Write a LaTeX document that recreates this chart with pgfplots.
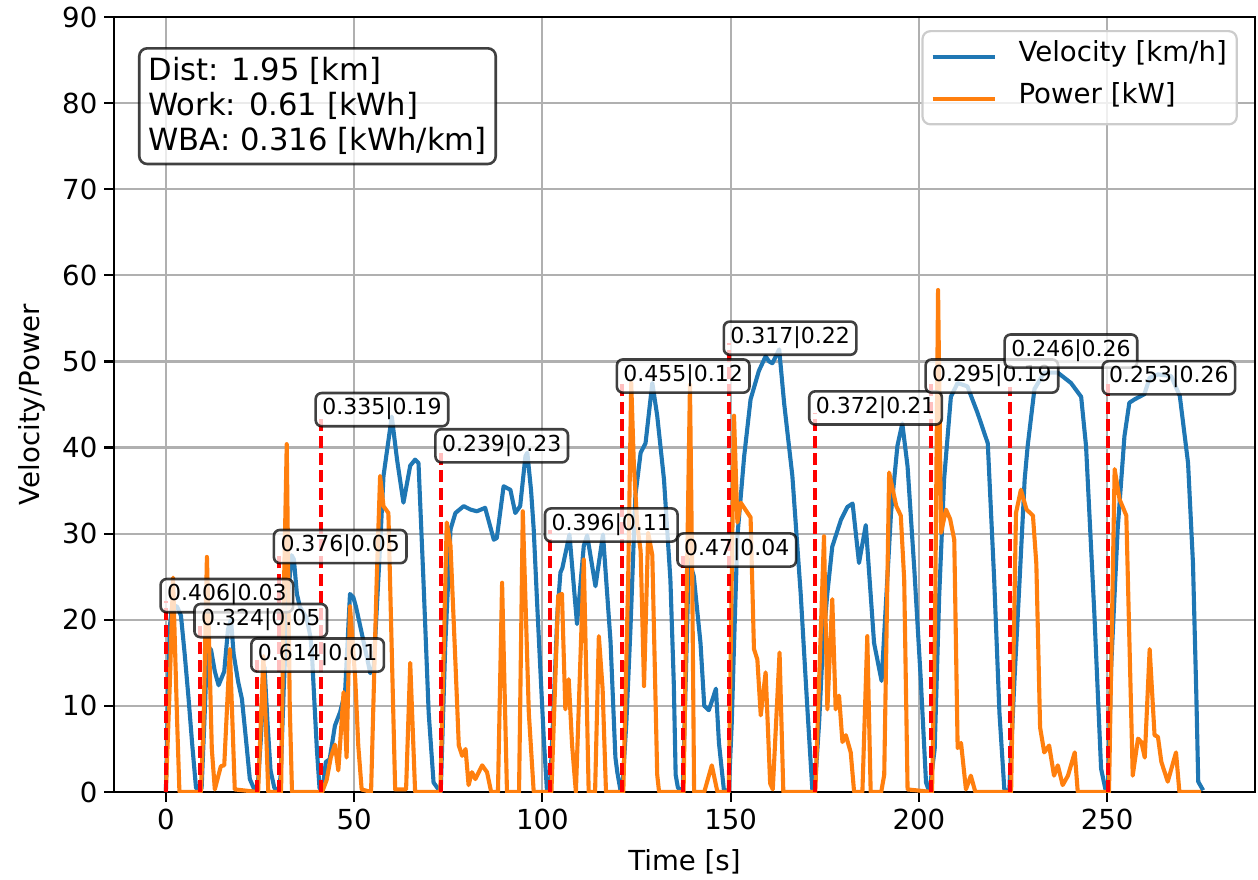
\documentclass[border=0pt]{standalone}
\usepackage{fontspec}
\setmainfont{DejaVu Sans}
\usepackage{pgfplots}
\pgfplotsset{compat=1.18}
\definecolor{mblue}{HTML}{1F77B4}
\definecolor{morange}{HTML}{FF7F0E}
\definecolor{mgrid}{HTML}{B0B0B0}
\tikzset{lbl/.style={anchor=base west, xshift=-3.3pt, fill=white, fill opacity=0.75, text opacity=1,
   draw=black, draw opacity=0.75, line width=1.3pt, rounded corners=3pt,
   inner xsep=3.3pt, inner ysep=3.3pt, font=\fontsize{11}{13}\selectfont,
   text height=0.76em, text depth=0.24em}}
\pgfplotstableread{
t v
0 0
0.5 10
1 19
1.7 21.8
3 21.5
4 20.5
5 16
6 11
7 5.5
8 0.5
9 0
9.5 0.5
10.3 9
11 17
12 16.5
13 14
14 12.4
15.5 14
16.5 18.9
17.3 20
18 16
19.2 12.8
20.2 10.8
21.3 6
22.3 1.5
23.5 0.3
24.3 0
25.2 6
26.2 14.5
27 8
27.8 2.5
28.8 0.5
30 0
30.5 2
31.3 12
32.3 22
33.4 27.5
34 27
34.8 23
35.6 21.5
37.4 20.2
38.4 18
38.8 16
39.5 10
40.1 5
40.8 0.5
41.5 0
42.5 3.5
43.5 3.8
44.9 7.7
46.3 9.3
47.6 11.6
48.9 23
49.8 22.6
50.5 21.5
52 18.5
54.3 13.8
55.2 14.5
56.9 28.6
57.8 36.7
60 43.6
61.4 38.6
63.1 33.6
64.9 37.9
66.2 38.6
67.1 38.2
68.4 24.7
69.8 9.2
71.1 1.1
72.4 0.3
73 0
74.2 17
75.6 30.5
76.9 32.4
79.1 33.2
80.9 32.8
82.6 32.6
84.8 33
87.1 29.3
87.9 29.5
89.7 35.5
91.5 35.1
92.8 32.4
94.1 33.2
95.5 39
96 39.4
97 35
97.7 30.5
98.6 22
99.5 13.9
100.4 6
101.2 0.3
102 0
103 10
104 20.8
104.8 25.5
105.3 26
107.2 29.9
109.2 19.5
111 28.6
111.9 29.8
114.1 23.9
116.1 29.9
118.1 17.5
119.4 4
119.9 2.3
120.7 0.3
121.2 0
122.3 8
123.4 19
124.7 34.4
126.1 39.4
127.4 40.5
129.2 47.5
130.5 43.7
132.3 36.3
134 24.7
134.9 12.7
135.4 2
136 0.5
137.3 0
138.2 15
138.9 27
140.2 25.1
142 17.3
143 10
144.2 9.5
145 10.5
146.1 12
146.9 5.7
148.2 0.3
149.5 0
150.3 8
150.9 17
151.8 29.7
153.6 39
155.3 45.6
157.5 48.9
159.3 50.6
160.2 50
161.1 49.8
162.9 51.4
164.2 45.2
166.4 36.7
168.6 23.1
170.4 9.6
171.7 0.3
172.3 0
173.5 8
174.5 17
175.7 23.1
177 28.5
179.3 31.6
181 33.1
182.4 33.5
184.1 26.6
185.9 31
188.1 17.3
190.1 12.9
192.6 32.4
194.3 40.2
195.6 42.8
197 37.8
198.8 25.8
200.5 13.1
201.9 1.1
202.8 0
204.2 5
205.4 22.8
206.7 36.3
208.5 45.9
210.3 47.5
212.9 47.1
215.6 44
218.3 40.5
220 24.7
221.4 9.2
222.7 0.3
224 0
225.4 13.1
226.8 25
228.1 36.3
228.9 40.2
230.7 46.8
233.3 48.7
236.9 48.7
240.4 47.5
243.1 45.9
244.4 40.2
246.6 20.8
248.4 2.7
249.7 0
250.2 0
251.1 14.8
252.8 30.5
254.6 41.3
255.9 45.2
257.3 45.6
259.9 46.2
261.3 48.1
263.5 48.5
267 48.3
269.3 46
271.5 38.2
272.8 26.6
273.7 11.2
274.2 1.2
275.5 0.2
}\velocity
\pgfplotstableread{
t p
0 0
1 12
1.9 24.9
3 8
3.6 0
9.3 0
10 8
10.9 27.3
12.2 5
13 0.3
14.6 3
15.5 3.1
17 16.6
18.3 0.3
24.5 0
25.9 15.8
27.2 0
30.6 0
31.2 20
32.1 40.4
32.9 10
33.5 0
41.5 0
42.7 1.4
43.8 4
44.9 5.5
45.8 2.5
47.2 11.6
48 4
48.9 21.6
50.3 13.1
51.1 5.4
52 0.3
54.5 0
56 24.7
56.9 36.7
57.8 33.2
59.1 32.4
60.9 0.3
63.8 0.3
64.9 15
66.2 0
72.9 0
74.6 31.3
75.6 28.6
76.9 15.1
77.8 5.4
78.7 4.2
79.6 5
80.4 0.8
81.3 2.3
82.2 1.5
84 3.1
85.3 2.3
86.4 0
88.2 0
89.3 24.3
90.6 0
93.8 0
94.8 32.6
96.4 9.2
97.7 0
102.4 0
104.2 22.8
105.2 23
106.1 9.6
107 13.1
107.9 5.4
108.9 0
111 27
112.3 0
114 0
115 18.1
116 12
116.9 0
121.5 0
122.8 25
123.6 47.5
124.3 38
125.2 31
126.1 28
127 12.3
128.1 30.1
129.2 27.5
130.5 2
131 0
137.5 0
138.4 25
139.2 47.3
139.8 25
140.3 0
143 0
145 3.1
146.5 0
149.5 0
150.9 43.7
151.8 31.3
152.7 33.6
155.3 31.9
156.2 16.6
157.1 15.4
158 8.9
159.3 13.9
160.5 1
161.2 0.3
163 16.2
164 0
172.5 0
174.8 29.7
175.7 9.6
177 22.4
177.9 9.6
178.8 11.2
179.7 5.8
180.6 6.6
181.9 4.6
182.8 0
185 0
186.3 18.1
187.2 0
190 0
190.8 2
192.1 37.1
194 33.2
195.2 32.1
196.1 24.7
197 0.3
203.5 0
204.3 20
205.1 58.3
205.9 30.1
207.2 32.8
208.3 31.7
209.4 29.3
210.3 5.1
211.2 5.7
212.5 0.3
213.8 1.9
215 0
224.5 0
225.8 32.4
227.1 35.1
228.6 32.8
230.3 32.1
231.2 26.5
232.2 7.5
233.3 4.6
234.6 5.4
235.9 1.9
236.9 3.1
238.2 0.8
239.6 1.9
241.4 4.6
242.2 0
250.5 0
252 37.5
253.3 34
255.1 32.1
256.8 1.9
258.2 6.2
259.1 5.8
260 4
261.3 16.6
262.6 6.6
263.5 6.4
264.4 3.5
266.1 1.2
268.3 4.6
269.2 0
275 0
}\power
\begin{document}
\begin{tikzpicture}
\useasboundingbox (-57pt,-43.5pt) rectangle (572pt,396pt);
\begin{axis}[
 at={(0pt,0pt)}, anchor=south west, scale only axis,
 width=570.5pt, height=387.5pt,
 xmin=-13.78, xmax=289.28, ymin=0, ymax=90,
 xtick={0,50,...,250}, ytick={0,10,...,90},
 tick align=outside, xtick pos=bottom, ytick pos=left,
 major tick length=4.8pt,
 tick style={black, line width=1.1pt},
 axis line style={black, line width=1.1pt},
 grid=major, major grid style={mgrid, line width=1.1pt},
 /pgf/number format/assume math mode=true,
 tick label style={font=\fontsize{13.8}{16}\selectfont},
 label style={font=\fontsize{13.8}{16}\selectfont},
 xlabel={Time [s]}, ylabel={Velocity/Power},
 xlabel style={at={(axis description cs:0.5,0)}, anchor=base, yshift=-39pt},
 ylabel style={at={(axis description cs:0,0.5)}, anchor=center, yshift=41pt},
 legend style={at={(0.985,0.9832)}, anchor=north east, draw=black!20, line width=1.1pt,
   fill=white, fill opacity=0.8, text opacity=1, rounded corners=4pt,
   inner xsep=4pt, inner ysep=6.3pt, row sep=8pt,
   font=\fontsize{13.8}{16}\selectfont,
   nodes={inner xsep=1pt, inner ysep=1.5pt, text height=0.76em, text depth=0.24em},
   /tikz/every odd column/.append style={column sep=10pt}},
 legend cell align=left,
 legend image code/.code={\draw[#1, line width=2.05pt] (0pt,0pt) -- (31pt,0pt);},
]
\addplot[mblue, line width=2.05pt, line join=round] table[x=t, y=v] {\velocity};
\addlegendentry{Velocity [km/h]}
\addplot[morange, line width=2.05pt, line join=round] table[x=t, y=p] {\power};
\addlegendentry{Power [kW]}
\addplot[ycomb, red, line width=2.05pt, dash pattern=on 6pt off 2.6pt, forget plot] coordinates {
(0,22.2) (9,19.3) (24.1,15.3) (30.1,27.9) (41.2,43.8) (73,39.6) (102.1,30.4)
(121.2,47.7) (137.3,27.5) (149.6,52.1) (172.3,44.0) (203.2,47.7) (224.2,47.0) (250.2,47.5)};
\node[lbl] at (axis cs:0,22.2) {0.406|0.03};
\node[lbl] at (axis cs:9,19.3) {0.324|0.05};
\node[lbl] at (axis cs:24.1,15.3) {0.614|0.01};
\node[lbl] at (axis cs:30.1,27.9) {0.376|0.05};
\node[lbl] at (axis cs:41.2,43.8) {0.335|0.19};
\node[lbl] at (axis cs:73,39.6) {0.239|0.23};
\node[lbl] at (axis cs:102.1,30.4) {0.396|0.11};
\node[lbl] at (axis cs:121.2,47.7) {0.455|0.12};
\node[lbl] at (axis cs:137.3,27.5) {0.47|0.04};
\node[lbl] at (axis cs:149.6,52.1) {0.317|0.22};
\node[lbl] at (axis cs:172.3,44.0) {0.372|0.21};
\node[lbl] at (axis cs:203.2,47.7) {0.295|0.19};
\node[lbl] at (axis cs:224.2,50.6) {0.246|0.26};
\node[lbl] at (axis cs:250.2,47.5) {0.253|0.26};
\node[anchor=north west, align=left, fill=white, fill opacity=0.75, text opacity=1,
   draw=black, draw opacity=0.75, line width=1.3pt, rounded corners=4pt,
   inner xsep=4.6pt, inner ysep=4.6pt, font=\fontsize{15.3}{17.5}\selectfont]
   at (rel axis cs:0.021,0.9613) {Dist: 1.95 [km]\\Work: 0.61 [kWh]\\WBA: 0.316 [kWh/km]};
\end{axis}
\end{tikzpicture}
\end{document}
